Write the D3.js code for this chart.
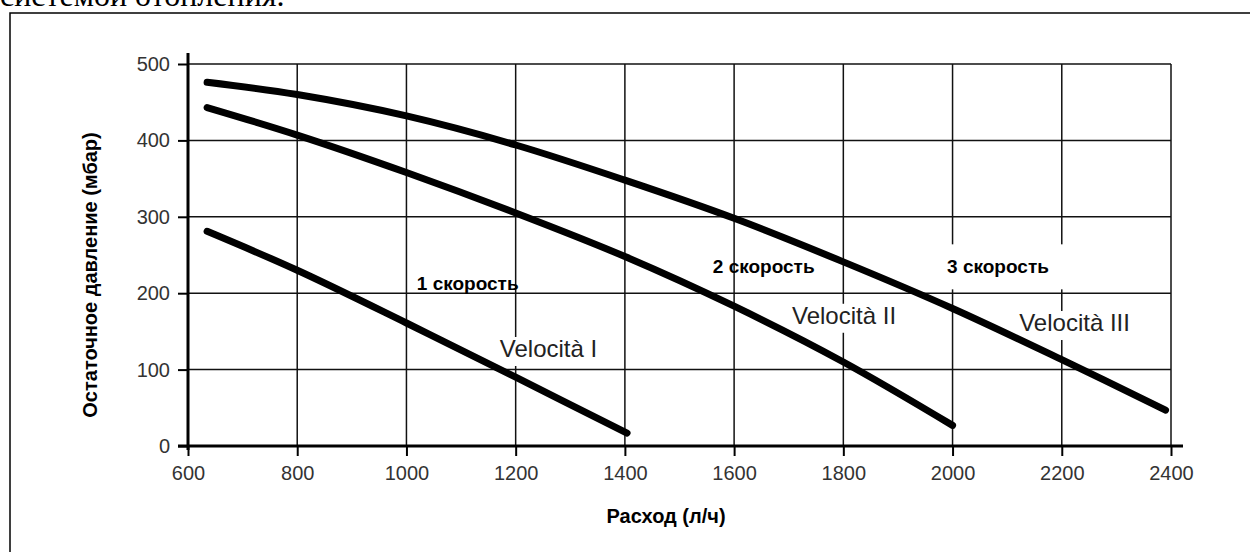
<!DOCTYPE html>
<html>
<head>
<meta charset="utf-8">
<script src="https://cdn.jsdelivr.net/npm/d3@7"></script>
<style>
  html, body { margin: 0; padding: 0; background: #fff; }
  svg { display: block; }
</style>
</head>
<body>
<script>
// ---- data ----
const xTicks = [600, 800, 1000, 1200, 1400, 1600, 1800, 2000, 2200, 2400];
const yTicks = [0, 100, 200, 300, 400, 500];

const flowI   = [635, 800, 1000, 1200, 1404];
const pressI  = [281, 230, 161, 90, 17];
const flowII  = [635, 800, 1000, 1200, 1400, 1600, 1800, 2000];
const pressII = [443, 407, 358, 305, 248, 183, 110, 27];
const flowIII  = [635, 800, 1000, 1200, 1400, 1600, 1800, 2000, 2200, 2390];
const pressIII = [476, 460, 432, 394, 348, 298, 241, 180, 113, 47];

const speedLabels = ["1 скорость", "2 скорость", "3 скорость"];
const curveLabels = ["Velocità I", "Velocità II", "Velocità III"];
const xTitle = "Расход (л/ч)";
const yTitle = "Остаточное давление (мбар)";
const headText = "системой отопления.";

// ---- layout ----
const W = 1250, H = 552;
const svg = d3.select("body").append("svg").attr("width", W).attr("height", H);

const x = d3.scaleLinear().domain([600, 2400]).range([188, 1171]);
const y = d3.scaleLinear().domain([0, 500]).range([446, 64]);

// head text (cut off at the top)
svg.append("text").attr("x", 0).attr("y", 6)
  .attr("font-family", "'Liberation Serif', 'Times New Roman', serif")
  .attr("font-size", 32).attr("fill", "#000").text(headText);

// outer frame
svg.append("rect").attr("x", 10).attr("y", 13).attr("width", 1300).attr("height", 600)
  .attr("fill", "#fff").attr("stroke", "#000").attr("stroke-width", 1.5);

// grid
const grid = svg.append("g").attr("stroke", "#111").attr("stroke-width", 1.5);
grid.selectAll("line.h").data(yTicks).join("line")
  .attr("x1", x(600)).attr("x2", x(2400)).attr("y1", d => y(d)).attr("y2", d => y(d));
grid.selectAll("line.v").data(xTicks).join("line")
  .attr("y1", y(0)).attr("y2", y(500)).attr("x1", d => x(d)).attr("x2", d => x(d));

// label placement (data coordinates)
const labelFont = "Arial, 'Liberation Sans', Helvetica, sans-serif";
const speedPos = [[1019, 204], [1561, 226], [1990, 226]];
const curvePos = [[1171, 116.5], [1706, 160], [2122, 150.5]];

const boxLayer = svg.append("g");
const textLayer = svg.append("g");

// axes
const xAxis = d3.axisBottom(x).tickValues(xTicks).tickSize(10).tickPadding(10).tickFormat(d3.format("d"));
const yAxis = d3.axisLeft(y).tickValues(yTicks).tickSize(10).tickPadding(8).tickFormat(d3.format("d"));

const gx = svg.append("g").attr("transform", `translate(0,${y(0)})`).call(xAxis);
const gy = svg.append("g").attr("transform", `translate(${x(600)},0)`).call(yAxis);
[gx, gy].forEach(g => {
  g.select(".domain").remove();
  g.selectAll(".tick line").attr("stroke", "#000").attr("stroke-width", 2);
  g.selectAll(".tick text").attr("font-family", labelFont).attr("font-size", 20).attr("fill", "#333");
});
// axis lines (extend slightly beyond the plot)
svg.append("line").attr("x1", x(600) - 10).attr("x2", x(2400) + 12)
  .attr("y1", y(0)).attr("y2", y(0)).attr("stroke", "#000").attr("stroke-width", 3);
svg.append("line").attr("x1", x(600)).attr("x2", x(600))
  .attr("y1", y(0) + 4).attr("y2", y(500) - 11).attr("stroke", "#000").attr("stroke-width", 3);

// text labels
const sp = textLayer.selectAll("text.sp").data(speedLabels).join("text")
  .attr("x", (d, i) => x(speedPos[i][0])).attr("y", (d, i) => y(speedPos[i][1]))
  .attr("font-family", labelFont).attr("font-weight", "bold").attr("font-size", 19)
  .attr("fill", "#000").text(d => d);
const cv = textLayer.selectAll("text.cv").data(curveLabels).join("text")
  .attr("x", (d, i) => x(curvePos[i][0])).attr("y", (d, i) => y(curvePos[i][1]))
  .attr("font-family", labelFont).attr("font-size", 24)
  .attr("fill", "#222").text(d => d);

// white boxes behind Velocità labels and "3 скорость"
cv.each(function() {
  const b = this.getBBox();
  boxLayer.append("rect").attr("x", b.x - 3).attr("y", b.y + 2)
    .attr("width", b.width + 6).attr("height", b.height + 2).attr("fill", "#fff");
});
sp.filter((d, i) => i === 2).each(function() {
  const b = this.getBBox();
  boxLayer.append("rect").attr("x", b.x - 14).attr("y", b.y - 12)
    .attr("width", b.width + 40).attr("height", 45).attr("fill", "#fff");
});

// curves
const line = d3.line().x(d => x(d[0])).y(d => y(d[1])).curve(d3.curveCatmullRom.alpha(0.5));
const series = [d3.zip(flowI, pressI), d3.zip(flowII, pressII), d3.zip(flowIII, pressIII)];
svg.append("g").selectAll("path").data(series).join("path")
  .attr("d", line).attr("fill", "none").attr("stroke", "#000")
  .attr("stroke-width", 7).attr("stroke-linecap", "round").attr("stroke-linejoin", "round");

textLayer.raise();

// axis titles
svg.append("text").attr("x", 666).attr("y", 523).attr("text-anchor", "middle")
  .attr("font-family", labelFont).attr("font-weight", "bold").attr("font-size", 20)
  .attr("fill", "#000").text(xTitle);
svg.append("text").attr("transform", "translate(97,275) rotate(-90)").attr("text-anchor", "middle")
  .attr("font-family", labelFont).attr("font-weight", "bold").attr("font-size", 20)
  .attr("fill", "#000").text(yTitle);
</script>
</body>
</html>
